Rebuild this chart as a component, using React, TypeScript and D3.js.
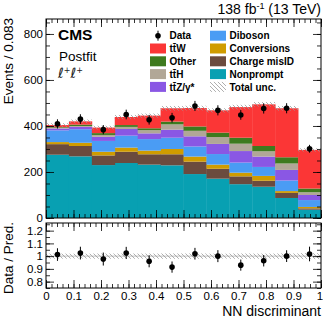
import React, { useRef, useEffect } from "react";
import {
  select,
  scaleLinear,
  axisBottom,
  axisTop,
  axisLeft,
  axisRight,
  stack,
  range,
} from "d3";

// NN discriminant bins (12 equal bins 0..1)
const nBins = 12;

// stacked backgrounds, bottom to top
const nonprompt = [275, 268, 230, 239, 232, 229, 191, 171, 147, 136, 87, 36];
const chargeMisID = [46, 45, 42, 49, 45, 48, 54, 43, 34, 26, 22, 6];
const conversions = [9, 14, 16, 18, 16, 23, 22, 18, 16, 21, 8, 6];
const diboson = [51, 59, 47, 52, 50, 49, 44, 46, 44, 39, 46, 30];
const ttZ = [8, 10, 18, 29, 25, 35, 44, 44, 50, 45, 46, 22];
const ttH = [3, 4, 8, 9, 14, 23, 24, 30, 32, 23, 28, 12];
const other = [3, 6, 8, 8, 8, 12, 19, 19, 26, 23, 27, 16];
const ttW = [9, 14, 24, 35, 55, 58, 80, 97, 133, 181, 213, 168];

const dataCounts = [409, 430, 384, 450, 427, 436, 487, 468, 448, 476, 477, 301];
const dataErr = [20, 21, 20, 21, 21, 21, 22, 22, 21, 22, 22, 17];
const totalUnc = [8, 8, 8, 9, 9, 10, 10, 9, 10, 10, 10, 7];

const layerKeys = ["nonprompt", "chargeMisID", "conversions", "diboson", "ttZ", "ttH", "other", "ttW"];
const layerColors = ["#08a0b2", "#6b4b3e", "#d09c00", "#4a9cf4", "#8a57e4", "#b1a797", "#3e7a1e", "#fb3636"];
const layerValues = [nonprompt, chargeMisID, conversions, diboson, ttZ, ttH, other, ttW];

const legendLeft = ["Data", "tt\u0304W", "Other", "tt\u0304H", "tt\u0304Z/\u03b3*"];
const legendLeftColors = ["", "#fb3636", "#3e7a1e", "#b1a797", "#8a57e4"];
const legendRight = ["Diboson", "Conversions", "Charge misID", "Nonprompt", "Total unc."];
const legendRightColors = ["#4a9cf4", "#d09c00", "#6b4b3e", "#08a0b2", "hatch"];

const mainTicks = [0, 200, 400, 600, 800];
const ratioTicks = [0.8, 0.9, 1, 1.1, 1.2];
const xTicks = [0, 0.1, 0.2, 0.3, 0.4, 0.5, 0.6, 0.7, 0.8, 0.9, 1];

const W = 323;
const H = 319;
const left = 46;
const right = 321;
const mainTop = 19;
const mainBottom = 218;
const ratioTop = 223;
const ratioBottom = 288;
const font = "'Liberation Sans', Arial, Helvetica, sans-serif";

const App: React.FC = () => {
  const svgRef = useRef(null);

  useEffect(() => {
    const svg = select(svgRef.current);
    svg.selectAll("*").remove();

    const x = scaleLinear().domain([0, 1]).range([left, right]);
    const y = scaleLinear().domain([0, 865]).range([mainBottom, mainTop]);
    const yr = scaleLinear().domain([0.75, 1.26]).range([ratioBottom, ratioTop]);

    const defs = svg.append("defs");
    const pat = defs
      .append("pattern")
      .attr("id", "hatch")
      .attr("patternUnits", "userSpaceOnUse")
      .attr("width", 4)
      .attr("height", 4);
    pat
      .append("path")
      .attr("d", "M-1,-1 L5,5 M3,-1 L5,1 M-1,3 L1,5")
      .attr("stroke", "#9a9a9a")
      .attr("stroke-width", 0.8);
    defs
      .append("clipPath")
      .attr("id", "mainclip")
      .append("rect")
      .attr("x", left)
      .attr("y", mainTop)
      .attr("width", right - left)
      .attr("height", mainBottom - mainTop);

    const rows = range(nBins).map((i) => {
      const r: any = { bin: i };
      layerKeys.forEach((k, j) => (r[k] = layerValues[j][i]));
      return r;
    });
    const series = stack().keys(layerKeys)(rows);
    const totals = series[series.length - 1].map((d) => d[1]);
    const bw = (right - left) / nBins;

    // stacked histogram
    const g = svg.append("g").attr("clip-path", "url(#mainclip)");
    series.forEach((s, j) => {
      g.append("g")
        .attr("fill", layerColors[j])
        .selectAll("rect")
        .data(s)
        .join("rect")
        .attr("x", (d, i) => x(i / nBins))
        .attr("width", bw + 0.4)
        .attr("y", (d) => y(d[1]))
        .attr("height", (d) => y(d[0]) - y(d[1]));
    });
    // total uncertainty band
    g.append("g")
      .selectAll("rect")
      .data(totals)
      .join("rect")
      .attr("x", (d, i) => x(i / nBins))
      .attr("width", bw)
      .attr("y", (d, i) => y(d + totalUnc[i]))
      .attr("height", (d, i) => y(d - totalUnc[i]) - y(d + totalUnc[i]))
      .attr("fill", "url(#hatch)");

    // data points
    const centers = range(nBins).map((i) => (i + 0.5) / nBins);
    const pts = svg.append("g");
    pts
      .selectAll("line")
      .data(dataCounts)
      .join("line")
      .attr("x1", (d, i) => x(centers[i]))
      .attr("x2", (d, i) => x(centers[i]))
      .attr("y1", (d, i) => y(d - dataErr[i]))
      .attr("y2", (d, i) => y(d + dataErr[i]))
      .attr("stroke", "#000")
      .attr("stroke-width", 1);
    pts
      .selectAll("circle")
      .data(dataCounts)
      .join("circle")
      .attr("cx", (d, i) => x(centers[i]))
      .attr("cy", (d) => y(d))
      .attr("r", 2.8)
      .attr("fill", "#000");

    // ratio panel
    const rg = svg.append("g");
    rg.selectAll("rect.unc")
      .data(totals)
      .join("rect")
      .attr("class", "unc")
      .attr("x", (d, i) => x(i / nBins))
      .attr("width", bw)
      .attr("y", (d, i) => yr(1 + totalUnc[i] / d))
      .attr("height", (d, i) => yr(1 - totalUnc[i] / d) - yr(1 + totalUnc[i] / d))
      .attr("fill", "url(#hatch)");
    rg.append("line")
      .attr("x1", left)
      .attr("x2", right)
      .attr("y1", yr(1))
      .attr("y2", yr(1))
      .attr("stroke", "#999")
      .attr("stroke-width", 0.6);
    rg.selectAll("line.err")
      .data(dataCounts)
      .join("line")
      .attr("class", "err")
      .attr("x1", (d, i) => x(centers[i]))
      .attr("x2", (d, i) => x(centers[i]))
      .attr("y1", (d, i) => yr((d - dataErr[i]) / totals[i]))
      .attr("y2", (d, i) => yr((d + dataErr[i]) / totals[i]))
      .attr("stroke", "#000");
    rg.selectAll("circle")
      .data(dataCounts)
      .join("circle")
      .attr("cx", (d, i) => x(centers[i]))
      .attr("cy", (d, i) => yr(d / totals[i]))
      .attr("r", 2.8)
      .attr("fill", "#000");

    // axes: ROOT style inward ticks on all sides
    const minorX = range(0, 51).map((i) => i / 50);
    const drawFrame = (yy: any, top: number, bottom: number, major: number[], minor: number[], fmt: any, xLabels: boolean) => {
      const ax = svg.append("g").attr("font-family", font);
      ax.append("g")
        .attr("transform", `translate(${left},0)`)
        .call(axisLeft(yy).tickValues(major).tickSize(-8).tickPadding(3).tickFormat(fmt));
      ax.append("g")
        .attr("transform", `translate(${left},0)`)
        .call(axisLeft(yy).tickValues(minor).tickSize(-4).tickFormat(() => ""));
      ax.append("g")
        .attr("transform", `translate(${right},0)`)
        .call(axisRight(yy).tickValues(major).tickSize(-8).tickFormat(() => ""));
      ax.append("g")
        .attr("transform", `translate(${right},0)`)
        .call(axisRight(yy).tickValues(minor).tickSize(-4).tickFormat(() => ""));
      const xb = ax.append("g")
        .attr("transform", `translate(0,${bottom})`)
        .call(axisBottom(x).tickValues(xTicks).tickSize(-8).tickPadding(4).tickFormat(xLabels ? (d: any) => `${d}` : () => ""));
      xb.selectAll("text").filter((d: any) => d === 1).attr("dx", -1.5);
      ax.append("g")
        .attr("transform", `translate(0,${bottom})`)
        .call(axisBottom(x).tickValues(minorX).tickSize(-4).tickFormat(() => ""));
      ax.append("g")
        .attr("transform", `translate(0,${top})`)
        .call(axisTop(x).tickValues(xTicks).tickSize(-8).tickFormat(() => ""));
      ax.append("g")
        .attr("transform", `translate(0,${top})`)
        .call(axisTop(x).tickValues(minorX).tickSize(-4).tickFormat(() => ""));
      ax.selectAll(".domain").remove();
      ax.selectAll("line").attr("stroke", "#000").attr("stroke-width", 0.8);
      ax.selectAll("text").attr("font-size", 11.5).attr("fill", "#000");
      ax.append("rect")
        .attr("x", left)
        .attr("y", top)
        .attr("width", right - left)
        .attr("height", bottom - top)
        .attr("fill", "none")
        .attr("stroke", "#000")
        .attr("stroke-width", 1);
    };
    const minorMain = range(0, 18).map((i) => i * 50);
    const minorRatio = range(0, 11).map((i) => 0.75 + i * 0.05);
    drawFrame(y, mainTop, mainBottom, mainTicks, minorMain, (d: any) => `${d}`, false);
    drawFrame(yr, ratioTop, ratioBottom, ratioTicks, minorRatio, (d: any) => `${d}`, true);

    // titles
    const t = svg.append("g").attr("font-family", font).attr("fill", "#000");
    t.append("text")
      .attr("transform", `translate(13,18) rotate(-90)`)
      .attr("text-anchor", "end")
      .attr("font-size", 13.5)
      .text("Events / 0.083");
    t.append("text")
      .attr("transform", `translate(13,222) rotate(-90)`)
      .attr("text-anchor", "end")
      .attr("font-size", 13.5)
      .text("Data / Pred.");
    t.append("text")
      .attr("x", right)
      .attr("y", 316)
      .attr("text-anchor", "end")
      .attr("font-size", 14)
      .text("NN discriminant");
    const lumi = t.append("text").attr("x", right).attr("y", 14).attr("text-anchor", "end").attr("font-size", 14);
    lumi.append("tspan").text("138 fb");
    lumi.append("tspan").attr("dy", -5).attr("font-size", 9).text("-1");
    lumi.append("tspan").attr("dy", 5).text(" (13 TeV)");
    t.append("text").attr("x", 58).attr("y", 40).attr("font-size", 15.5).attr("font-weight", "bold").text("CMS");
    t.append("text").attr("x", 59).attr("y", 61).attr("font-size", 13.5).text("Postfit");
    const ll = t
      .append("text")
      .attr("x", 58)
      .attr("y", 78)
      .attr("font-size", 14)
      .attr("font-family", "'DejaVu Sans', sans-serif")
      .attr("font-style", "italic")
      .attr("fill", "#222");
    ll.append("tspan").text("\u2113");
    ll.append("tspan").attr("dy", -5).attr("font-size", 8).text("+");
    ll.append("tspan").attr("dy", 5).text("\u2113");
    ll.append("tspan").attr("dy", -5).attr("font-size", 8).text("+");

    // legend
    const lg = svg.append("g").attr("font-family", font).attr("font-size", 10).attr("font-weight", "bold");
    const rowY = (i: number) => 35.7 + i * 12.8;
    legendLeft.forEach((lab, i) => {
      const cy = rowY(i);
      if (i === 0) {
        lg.append("line").attr("x1", 158).attr("x2", 158).attr("y1", cy - 5).attr("y2", cy + 5).attr("stroke", "#000");
        lg.append("circle").attr("cx", 158).attr("cy", cy).attr("r", 2.8).attr("fill", "#000");
      } else {
        lg.append("rect").attr("x", 150).attr("y", cy - 5).attr("width", 16).attr("height", 10).attr("fill", legendLeftColors[i]);
      }
      lg.append("text").attr("x", 169.5).attr("y", cy + 3.6).text(lab);
    });
    legendRight.forEach((lab, i) => {
      const cy = rowY(i);
      lg.append("rect")
        .attr("x", 210)
        .attr("y", cy - 5)
        .attr("width", 16)
        .attr("height", 10)
        .attr("fill", legendRightColors[i] === "hatch" ? "url(#hatch)" : legendRightColors[i]);
      lg.append("text").attr("x", 229.5).attr("y", cy + 3.6).text(lab);
    });
  });

  return (
    <svg
      ref={svgRef}
      width={W}
      height={H}
      style={{ position: "absolute", left: 0, top: 0, background: "#fff" }}
    ></svg>
  );
};

export default App;
